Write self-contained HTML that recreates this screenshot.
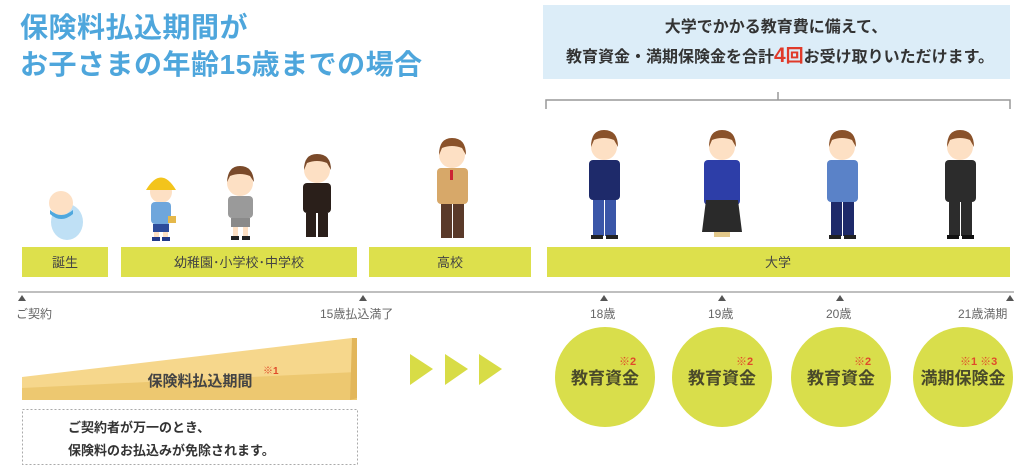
<!DOCTYPE html>
<html><head><meta charset="utf-8"><style>
html,body{margin:0;padding:0;background:#fff;}
svg{display:block;font-family:"Liberation Sans","Noto Sans CJK JP",sans-serif;}
</style></head><body>
<svg width="1024" height="471" viewBox="0 0 1024 471" xmlns="http://www.w3.org/2000/svg">
<!-- title -->
<text x="20" y="37" font-size="28" font-weight="bold" fill="#4ea6dc" letter-spacing="0.5">保険料払込期間が</text>
<text x="20" y="74" font-size="28" font-weight="bold" fill="#4ea6dc" letter-spacing="0.5">お子さまの年齢15歳までの場合</text>
<!-- top right box -->
<rect x="543" y="5" width="467" height="74" fill="#dcedf8"/>
<text x="776" y="32" font-size="16" font-weight="bold" fill="#333" text-anchor="middle">大学でかかる教育費に備えて、</text>
<text x="780" y="62" font-size="16" font-weight="bold" fill="#333" text-anchor="middle">教育資金・満期保険金を合計<tspan fill="#e03a2a" font-size="21">4</tspan><tspan fill="#e03a2a" font-size="18">回</tspan>お受け取りいただけます。</text>
<!-- bracket -->
<path d="M546 109 V100 H1010 V109 M778 92 V100" stroke="#999" stroke-width="1.5" fill="none"/>

<!-- baby -->
<ellipse cx="67" cy="222" rx="16" ry="18" fill="#bfe0f5"/>
<circle cx="61" cy="203" r="12" fill="#fde0c4"/>
<path d="M50 210 Q61 220 73 210 L73 214 Q61 224 50 214Z" fill="#4fa8de"/>
<!-- kindergarten -->
<circle cx="161" cy="192" r="11" fill="#fde0c4"/>
<path d="M146 190 Q161 165 176 190Z" fill="#f3c41c"/>
<rect x="151" y="202" width="20" height="22" rx="4" fill="#6ea6dc"/>
<rect x="153" y="224" width="16" height="8" fill="#2c4b9a"/>
<rect x="154" y="232" width="5" height="6" fill="#fde0c4"/><rect x="163" y="232" width="5" height="6" fill="#fde0c4"/>
<rect x="152" y="237" width="8" height="4" fill="#223a8a"/><rect x="162" y="237" width="8" height="4" fill="#223a8a"/>
<rect x="168" y="216" width="8" height="7" fill="#e5b84a"/>
<!-- elementary -->
<circle cx="240" cy="183" r="13" fill="#fde0c4"/>
<path d="M227 182 Q228 166 240 166 Q253 166 254 182 L250 176 Q240 172 230 176Z" fill="#7a4a2a"/>
<rect x="228" y="196" width="25" height="22" rx="4" fill="#9a9a9a"/>
<rect x="231" y="218" width="19" height="9" fill="#8a8a8a"/>
<rect x="233" y="227" width="5" height="9" fill="#fde0c4"/><rect x="243" y="227" width="5" height="9" fill="#fde0c4"/>
<rect x="231" y="236" width="8" height="4" fill="#222"/><rect x="242" y="236" width="8" height="4" fill="#222"/>
<!-- junior high -->
<circle cx="317" cy="170" r="13" fill="#fde0c4"/>
<path d="M304 170 Q304 154 317 154 Q331 154 331 170 L327 163 Q317 159 307 163Z" fill="#7a4a2a"/>
<rect x="303" y="183" width="28" height="30" rx="4" fill="#2a1f1a"/>
<rect x="306" y="213" width="10" height="24" fill="#2a1f1a"/><rect x="318" y="213" width="10" height="24" fill="#2a1f1a"/>
<!-- high school -->
<circle cx="452" cy="155" r="13" fill="#fde0c4"/>
<path d="M439 155 Q439 138 452 138 Q466 138 466 155 L462 148 Q452 144 442 148Z" fill="#8a522a"/>
<rect x="437" y="168" width="31" height="36" rx="4" fill="#d7a869"/>
<rect x="441" y="204" width="11" height="34" fill="#5a3a2a"/><rect x="453" y="204" width="11" height="34" fill="#5a3a2a"/>
<rect x="450" y="170" width="3" height="10" fill="#c23"/>

<!-- college figures -->
<g>
<circle cx="604" cy="147" r="13" fill="#fde0c4"/>
<path d="M591 147 Q591 130 604 130 Q618 130 618 147 L614 140 Q604 136 594 140Z" fill="#8a522a"/>
<rect x="589" y="160" width="31" height="40" rx="4" fill="#1e2a6a"/>
<rect x="593" y="200" width="11" height="36" fill="#3a56a8"/><rect x="605" y="200" width="11" height="36" fill="#3a56a8"/>
<rect x="591" y="235" width="12" height="4" fill="#222"/><rect x="606" y="235" width="12" height="4" fill="#222"/>
</g>
<g>
<circle cx="722" cy="147" r="13" fill="#fde0c4"/>
<path d="M709 147 Q709 130 722 130 Q736 130 736 147 L732 140 Q722 136 712 140Z" fill="#8a522a"/>
<rect x="704" y="160" width="36" height="45" rx="4" fill="#2d3ea8"/>
<path d="M706 200 H738 L742 232 H702Z" fill="#2a2a2a"/>
<rect x="714" y="232" width="16" height="5" fill="#e2c88a"/>
</g>
<g>
<circle cx="842" cy="147" r="13" fill="#fde0c4"/>
<path d="M829 147 Q829 130 842 130 Q856 130 856 147 L852 140 Q842 136 832 140Z" fill="#8a522a"/>
<rect x="827" y="160" width="31" height="42" rx="4" fill="#5a82c8"/>
<rect x="831" y="202" width="11" height="34" fill="#1e2a6a"/><rect x="843" y="202" width="11" height="34" fill="#1e2a6a"/>
<rect x="829" y="235" width="12" height="4" fill="#222"/><rect x="844" y="235" width="12" height="4" fill="#222"/>
</g>
<g>
<circle cx="960" cy="147" r="13" fill="#fde0c4"/>
<path d="M947 147 Q947 130 960 130 Q974 130 974 147 L970 140 Q960 136 950 140Z" fill="#8a522a"/>
<rect x="945" y="160" width="31" height="42" rx="4" fill="#2c2c2c"/>
<rect x="949" y="202" width="11" height="34" fill="#2c2c2c"/><rect x="961" y="202" width="11" height="34" fill="#2c2c2c"/>
<rect x="947" y="235" width="12" height="4" fill="#111"/><rect x="962" y="235" width="12" height="4" fill="#111"/>
</g>

<!-- stage bars -->
<g fill="#dde04c">
<rect x="22" y="247" width="86" height="30"/>
<rect x="121" y="247" width="236" height="30"/>
<rect x="369" y="247" width="162" height="30"/>
<rect x="547" y="247" width="463" height="30"/>
</g>
<g font-size="13" fill="#444" text-anchor="middle">
<text x="65" y="267">誕生</text>
<text x="239" y="267">幼稚園･小学校･中学校</text>
<text x="450" y="267">高校</text>
<text x="778" y="267">大学</text>
</g>
<!-- timeline -->
<line x1="18" y1="292" x2="1014" y2="292" stroke="#aaa" stroke-width="1.5"/>
<g fill="#555">
<path d="M18 301 L22 295 L26 301Z"/>
<path d="M359 301 L363 295 L367 301Z"/>
<path d="M600 301 L604 295 L608 301Z"/>
<path d="M718 301 L722 295 L726 301Z"/>
<path d="M836 301 L840 295 L844 301Z"/>
<path d="M1006 301 L1010 295 L1014 301Z"/>
</g>
<g font-size="12" fill="#666">
<text x="16" y="318">ご契約</text>
<text x="320" y="318">15歳払込満了</text>
<text x="590" y="318">18歳</text>
<text x="708" y="318">19歳</text>
<text x="826" y="318">20歳</text>
<text x="958" y="318">21歳満期</text>
</g>
<!-- wedge -->
<polygon points="22,377 352,338 357,338 357,400 22,400" fill="#f6d78c"/>
<polygon points="22,388 357,372 357,400 22,400" fill="#edc870"/>
<polygon points="352,338 357,338 357,398 350,400" fill="#e2b65a"/>
<text x="200" y="386" font-size="15" font-weight="bold" fill="#444" text-anchor="middle">保険料払込期間</text>
<text x="263" y="374" font-size="10" font-weight="bold" fill="#e04a2a">※1</text>
<!-- dotted box -->
<rect x="22.5" y="409.5" width="335" height="55" fill="none" stroke="#aaa" stroke-dasharray="2,2"/>
<text x="68" y="432" font-size="13" font-weight="bold" fill="#333">ご契約者が万一のとき、</text>
<text x="68" y="455" font-size="13" font-weight="bold" fill="#333">保険料のお払込みが免除されます。</text>
<!-- arrows -->
<g fill="#d8dc46">
<path d="M410 354 L433 369 L410 385Z"/>
<path d="M445 354 L468 369 L445 385Z"/>
<path d="M479 354 L502 369 L479 385Z"/>
</g>
<!-- circles -->
<g fill="#d9de4b">
<circle cx="605" cy="377" r="50"/>
<circle cx="722" cy="377" r="50"/>
<circle cx="841" cy="377" r="50"/>
<circle cx="963" cy="377" r="50"/>
</g>
<g font-size="17" font-weight="bold" fill="#4a4a2a" text-anchor="middle">
<text x="605" y="384">教育資金</text>
<text x="722" y="384">教育資金</text>
<text x="841" y="384">教育資金</text>
<text x="963" y="384">満期保険金</text>
</g>
<g font-size="11" font-weight="bold" fill="#e04a2a">
<text x="619" y="365">※2</text>
<text x="736" y="365">※2</text>
<text x="854" y="365">※2</text>
<text x="960" y="365">※1 ※3</text>
</g>
</svg>
</body></html>
